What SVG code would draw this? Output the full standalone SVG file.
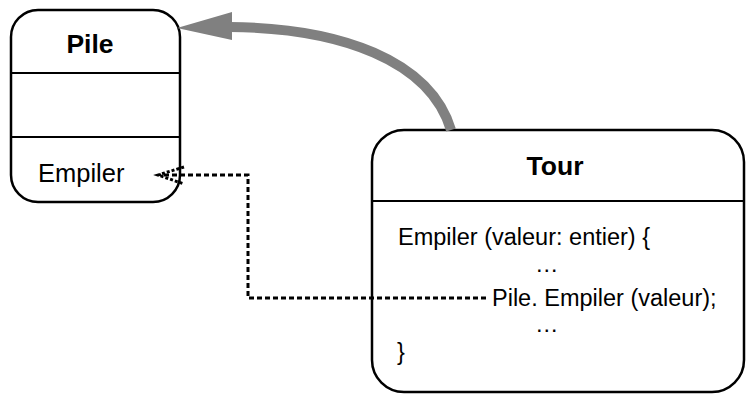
<svg xmlns="http://www.w3.org/2000/svg" width="746" height="398" viewBox="0 0 746 398">
<style>
.box{fill:#fff;stroke:#000;stroke-width:2.5}
.div{stroke:#000;stroke-width:2}
.t{font-family:"Liberation Sans",Arial,sans-serif;fill:#000}
.b{font-weight:bold;font-size:26.5px}
.n{font-size:23.5px}
.dash{fill:none;stroke:#000;stroke-width:3;stroke-dasharray:5 3}
</style>
<rect width="746" height="398" fill="#fff"/>
<g id="pile">
<rect class="box" x="11" y="10" width="169" height="192" rx="27"/>
<line class="div" x1="11" y1="73" x2="180" y2="73"/>
<line class="div" x1="11" y1="137" x2="180" y2="137"/>
<text class="t b" x="90" y="53" text-anchor="middle">Pile</text>
<text class="t" x="38" y="182" font-size="25.5">Empiler</text>
</g>
<g id="tour">
<rect class="box" x="372" y="130" width="372" height="262" rx="32"/>
<line class="div" x1="372" y1="201" x2="744" y2="201"/>
<text class="t b" x="555" y="175" text-anchor="middle">Tour</text>
<text class="t n" x="398" y="245">Empiler (valeur: entier) {</text>
<text class="t n" x="535" y="272">…</text>
<text class="t n" x="492" y="306">Pile. Empiler (valeur);</text>
<text class="t n" x="535" y="332">…</text>
<text class="t n" x="397" y="360">}</text>
</g>
<g id="connectors">
<path d="M451,130 C430,60 340,28 230,27" fill="none" stroke="#808080" stroke-width="10"/>
<polygon points="177,28 232,12 232,40" fill="#808080"/>
<path class="dash" d="M486,298 L248,298 L248,175 L160,175"/>
<path d="M184,167 L158,175 L184,184" fill="none" stroke="#000" stroke-width="3" stroke-dasharray="3 2"/>
</g>
</svg>
